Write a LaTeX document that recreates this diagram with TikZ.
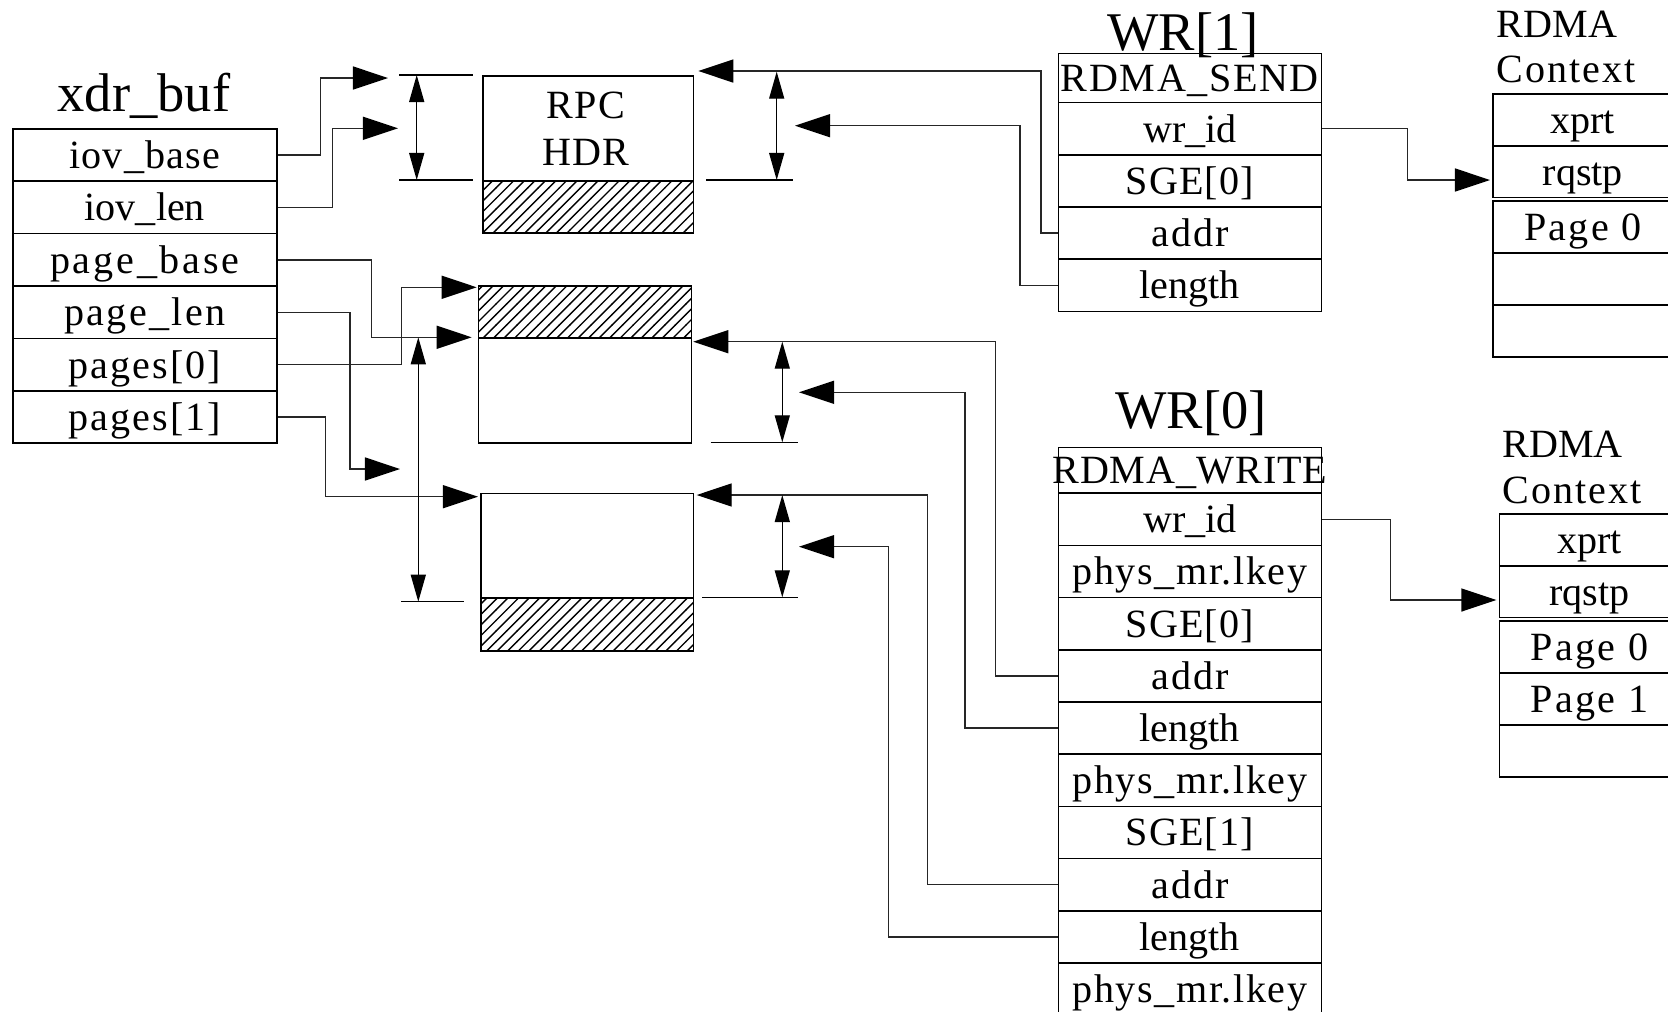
\documentclass[tikz,border=0pt]{standalone}
\usepackage{fontspec}
\setmainfont{Liberation Serif}
\usetikzlibrary{arrows.meta,patterns}
\newcommand\lsp[2]{{\addfontfeature{LetterSpace=#1}#2}}
\begin{document}
\begin{tikzpicture}[x=0.01cm,y=-0.01cm,
  rowfont/.style={font=\fontsize{11.4pt}{13pt}\selectfont},
  cell/.style={draw, line width=0.45pt, inner sep=0pt, anchor=north west,
    text height=0.27cm, text depth=0pt, rowfont},
  xcell/.style={cell, minimum width=2.64cm, minimum height=0.524cm},
  wcell/.style={cell, minimum width=2.63cm, minimum height=0.522cm},
  ccell/.style={cell, minimum width=1.80cm, minimum height=0.52cm},
  pagebox/.style={draw, line width=0.45pt, inner sep=0pt, anchor=north west},
  hatch/.style={pagebox, pattern=north east lines},
  conn/.style={line width=0.4pt, draw=black!85, -{Triangle[length=0.35cm,width=0.23cm,color=black]}},
  dimarrow/.style={line width=0.4pt, {Triangle[length=0.27cm,width=0.15cm]}-{Triangle[length=0.27cm,width=0.15cm]}},
  extline/.style={line width=0.4pt},
  titletext/.style={font=\fontsize{15.5pt}{18pt}\selectfont, anchor=base, inner sep=0pt},
  labeltext/.style={rowfont, anchor=base west, inner sep=0pt}]
\useasboundingbox (0,0) rectangle (1668,1011);
\clip (0,0) rectangle (1668,1011);

% ---------- xdr_buf ----------
\node[titletext] (xtitle) at (144,111.7) {xdr\_buf};
\node[xcell] (xb1) at (12,128)   {\lsp{3}{iov\_base}};
\node[xcell] (xb2) at (12,180.4) {iov\_len};
\node[xcell] (xb3) at (12,232.8) {\lsp{7}{page\_base}};
\node[xcell] (xb4) at (12,285.2) {\lsp{6}{page\_len}};
\node[xcell] (xb5) at (12,337.6) {\lsp{5}{pages[0]}};
\node[xcell] (xb6) at (12,390)   {\lsp{5}{pages[1]}};

% ---------- RPC HDR ----------
\node[pagebox, minimum width=2.104cm, minimum height=1.05cm] (rpc) at (482.3,75) {};
\node[hatch, minimum width=2.104cm, minimum height=0.523cm] (rpch) at (482.3,180) {};
\node[rowfont, anchor=base, inner sep=0pt] (rpct1) at (586,118.3) {\lsp{3}{RPC}};
\node[rowfont, anchor=base, inner sep=0pt] (rpct2) at (586,165) {\lsp{3}{HDR}};

% ---------- page boxes ----------
\node[hatch, minimum width=2.13cm, minimum height=0.523cm] (pah) at (477.7,285) {};
\node[pagebox, minimum width=2.13cm, minimum height=1.05cm] (pa) at (477.7,337.3) {};
\node[pagebox, minimum width=2.127cm, minimum height=1.046cm] (pb) at (480,492.7) {};
\node[hatch, minimum width=2.127cm, minimum height=0.527cm] (pbh) at (480,597.3) {};

% ---------- WR[1] ----------
\node[titletext] (w1title) at (1183,50) {WR[1]};
\node[wcell, minimum height=0.49cm] (w1h) at (1057.5,52.7) {\makebox[0pt]{\lsp{4}{RDMA\_SEND}}};
\node[wcell] (w1id)   at (1057.5,101.7) {wr\_id};
\node[wcell] (w1sge)  at (1057.5,153.9) {\lsp{3}{SGE[0]}};
\node[wcell] (w1addr) at (1057.5,206.1) {\lsp{5}{addr}};
\node[wcell] (w1len)  at (1057.5,258.3) {length};

% ---------- WR[0] ----------
\node[titletext] (w0title) at (1191,428) {WR[0]};
\node[wcell, minimum height=0.456cm] (w0h) at (1057.5,446.7) {\makebox[0pt]{\lsp{2}{RDMA\_WRITE}}};
\node[wcell] (w0id)    at (1057.5,492.3) {wr\_id};
\node[wcell] (w0key)   at (1057.5,544.5) {\lsp{4}{phys\_mr.lkey}};
\node[wcell] (w0sge)   at (1057.5,596.7) {\lsp{3}{SGE[0]}};
\node[wcell] (w0addr)  at (1057.5,648.9) {\lsp{5}{addr}};
\node[wcell] (w0len)   at (1057.5,701.1) {length};
\node[wcell] (w0keyb)  at (1057.5,753.3) {\lsp{4}{phys\_mr.lkey}};
\node[wcell] (w0sgeb)  at (1057.5,805.5) {\lsp{3}{SGE[1]}};
\node[wcell] (w0addrb) at (1057.5,857.7) {\lsp{5}{addr}};
\node[wcell] (w0lenb)  at (1057.5,909.9) {length};
\node[wcell] (w0keyc)  at (1057.5,962.1) {\lsp{4}{phys\_mr.lkey}};

% ---------- RDMA Context (top) ----------
\node[labeltext] (c1l1) at (1496,37.3) {RDMA};
\node[labeltext] (c1l2) at (1496,82.7) {\lsp{5}{Context}};
\node[ccell, minimum height=0.517cm] (c1a) at (1492,93.3) {xprt};
\node[ccell, minimum height=0.517cm] (c1b) at (1492,145)  {rqstp};
\node[ccell] (c1c) at (1492,200)   {\lsp{6}{Page 0}};
\node[ccell] (c1d) at (1492,252.2) {};
\node[ccell] (c1e) at (1492,304.4) {};

% ---------- RDMA Context (bottom) ----------
\node[labeltext] (c2l1) at (1501.7,457.3) {RDMA};
\node[labeltext] (c2l2) at (1501.7,503.3) {\lsp{5}{Context}};
\node[ccell, minimum height=0.517cm] (c2a) at (1498.5,513.3) {xprt};
\node[ccell, minimum height=0.517cm] (c2b) at (1498.5,565)   {rqstp};
\node[ccell] (c2c) at (1498.5,620)   {\lsp{6}{Page 0}};
\node[ccell] (c2d) at (1498.5,672.2) {\lsp{6}{Page 1}};
\node[ccell] (c2e) at (1498.5,724.4) {};

% ---------- arrow tips ----------
\coordinate (t1) at (388,78);
\coordinate (t2) at (398,128.3);
\coordinate (t3) at (471.7,337.3);
\coordinate (t4) at (400,469);
\coordinate (t5) at (476.7,287.3);
\coordinate (t6) at (478,496.7);
\coordinate (t7) at (698.3,71);
\coordinate (t8) at (795,125.7);
\coordinate (t9) at (1490,180);
\coordinate (t10) at (1496.4,600);
\coordinate (t11) at (693.3,341.7);
\coordinate (t12) at (799,392.3);
\coordinate (t13) at (696.7,495);
\coordinate (t14) at (799,546.7);

% ---------- connectors ----------
\draw[conn] (xb1.east) -- ++(43,0) |- (t1);
\draw[conn] (xb2.east) -- ++(55,0) |- (t2);
\draw[conn] (xb3.east) -- ++(94,0) |- (t3);
\draw[conn] (xb4.east) -- ++(72.3,0) |- (t4);
\draw[conn] (xb5.east) -- ++(124,0) |- (t5);
\draw[conn] (xb6.east) -- ++(48,0) |- (t6);

\draw[conn] (w1addr.west) -- ++(-16.5,0) |- (t7);
\draw[conn] (w1len.west) -- ++(-37.5,0) |- (t8);
\draw[conn] (w1id.east) -- ++(85.2,0) |- (t9);

\draw[conn] (w0id.east) -- ++(68.2,0) |- (t10);
\draw[conn] (w0addr.west) -- ++(-61.8,0) |- (t11);
\draw[conn] (w0len.west) -- ++(-92.5,0) |- (t12);
\draw[conn] (w0addrb.west) -- ++(-130.2,0) |- (t13);
\draw[conn] (w0lenb.west) -- ++(-169.2,0) |- (t14);

% ---------- extension lines ----------
\draw[extline] (399,75) -- (473.3,75);
\draw[extline] (399,180) -- (473.3,180);
\draw[extline] (706,180) -- (793,180);
\draw[extline] (401,601.7) -- (464.3,601.7);
\draw[extline] (710.7,442.3) -- (797.7,442.3);
\draw[extline] (702.3,597.3) -- (797.7,597.3);

% ---------- dimension arrows ----------
\coordinate (d1a) at (416.7,75);   \coordinate (d1b) at (416.7,180);
\coordinate (d2a) at (776.7,71.7); \coordinate (d2b) at (776.7,180);
\coordinate (d3a) at (418.3,337.3);\coordinate (d3b) at (418.3,601.7);
\coordinate (d4a) at (782.3,341.7);\coordinate (d4b) at (782.3,442.3);
\coordinate (d5a) at (782.3,495);  \coordinate (d5b) at (782.3,597.3);
\draw[dimarrow] (d1a) -- (d1b);
\draw[dimarrow] (d2a) -- (d2b);
\draw[dimarrow] (d3a) -- (d3b);
\draw[dimarrow] (d4a) -- (d4b);
\draw[dimarrow] (d5a) -- (d5b);
\end{tikzpicture}
\end{document}
